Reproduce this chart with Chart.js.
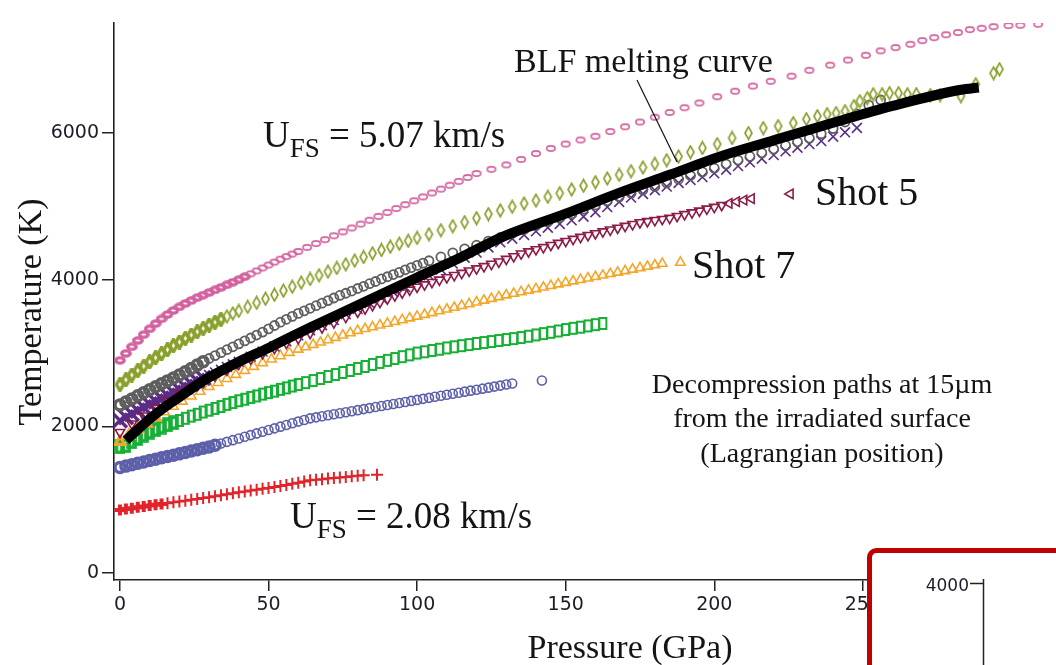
<!DOCTYPE html>
<html>
<head>
<meta charset="utf-8">
<script src="https://cdn.jsdelivr.net/npm/chart.js@4.4.1/dist/chart.umd.min.js"></script>
<style>
html,body{margin:0;padding:0;background:#fff;}
#wrap{width:1056px;height:665px;position:relative;}
</style>
</head>
<body>
<div id="wrap"><canvas id="c" width="1056" height="665"></canvas></div>
<script>
// ---- data (Pressure GPa, Temperature K) ----
const xTicks = [0, 50, 100, 150, 200, 250, 300];
const yTicks = [0, 2000, 4000, 6000];

const pinkP = [0,2,4,6,8,10,12,14,16,18,20,22,24,26,28,30,32,34,36,38,40,42,44,46,48,50,52,54,56,58,60,63,66,69,72,75,78,81,84,87,90,93,96,99,102,105,108,111,114,117,120,125,130,135,140,145,150,155,160,165,170,175,180,185,190,195,201,207,213,219,226,232,239,245,251,256,261,266,270,274,278,282,286,290,294,299,303,309];
const pinkT = [2900,2995,3085,3170,3250,3330,3400,3465,3525,3580,3630,3675,3715,3755,3790,3825,3860,3895,3930,3965,4000,4040,4080,4120,4160,4200,4240,4280,4315,4350,4385,4440,4493,4546,4599,4652,4705,4758,4811,4864,4917,4970,5023,5076,5129,5182,5235,5288,5341,5394,5447,5505,5565,5640,5720,5790,5850,5905,5955,6020,6085,6150,6215,6280,6345,6410,6495,6570,6640,6705,6775,6855,6925,6995,7060,7120,7165,7210,7260,7300,7340,7370,7410,7428,7450,7465,7470,7483];

const oliveP = [0,2,4,6,8,10,12,14,16,18,20,22,24,26,28,30,32,34,36,38,40,43,46,49,52,55,58,61,64,67,70,73,76,79,82,85,88,91,94,97,100,104,108,112,116,120,124,128,132,136,140,144,148,152,156,160,164,168,172,176,180,184,188,192,196,201,206,211.5,216.5,221.5,226.6,231,234.7,238,241,244,247,249,251.5,253.5,256.5,259,262,265,268,272.7,276,283,288,294,296];
const oliveT = [2570,2635,2700,2760,2820,2880,2935,2990,3045,3100,3150,3200,3245,3290,3335,3380,3420,3460,3500,3540,3575,3630,3685,3740,3795,3850,3905,3960,4010,4060,4110,4160,4210,4260,4310,4360,4405,4450,4490,4530,4570,4620,4675,4730,4785,4840,4895,4945,4995,5040,5080,5130,5180,5230,5280,5330,5380,5430,5480,5530,5580,5630,5680,5740,5796,5850,5932,6000,6068,6095,6136,6190,6231,6258,6272,6299,6367,6435,6476,6530,6530,6544,6544,6530,6530,6517,6517,6503,6666,6816,6871];

const grayP = [0,2,4,6,8,10,12,14,16,18,20,22,24,26,28,30,32,34,36,38,40,42,44,46,48,50,52,54,56,58,60,62,64,66,68,70,72,74,76,78,80,82,84,86,88,90,92,94,96,98,100,102,104,108,112,116,120,124,128,132,136,140,144,148,152,156,160,164,168,172,176,180,184,188,192,196,200,204,208,212,216,220,224,228,232,236,240,244,248,252,256];
const grayT = [2290,2332,2374,2416,2458,2500,2540,2580,2620,2660,2700,2745,2790,2835,2880,2925,2965,3005,3045,3085,3125,3165,3205,3245,3285,3330,3375,3420,3460,3500,3540,3575,3610,3645,3680,3715,3750,3785,3815,3845,3880,3910,3945,3975,4010,4040,4070,4100,4135,4165,4195,4225,4258,4310,4365,4420,4470,4525,4575,4630,4685,4740,4790,4845,4900,4960,5020,5075,5130,5180,5225,5270,5320,5370,5420,5470,5520,5575,5630,5680,5730,5780,5830,5880,5930,5990,6060,6150,6260,6380,6450];

const purpleP = [0,2,4,6,8,10,12,14,16,18,20,22,24,26,28,30,32,34,36,38,40,44,48,52,56,60,64,68,72,76,80,84,88,92,96,100,104,108,112,116,120,124,128,132,136,140,144,148,152,156,160,164,168,172,176,180,184,188,192,196,200,204,208,212,216,220,224,228,232,236,240,244,248];
const purpleT = [2080,2125,2170,2215,2260,2300,2340,2380,2420,2460,2500,2540,2580,2620,2660,2700,2735,2770,2810,2845,2880,2950,3020,3090,3160,3240,3310,3380,3450,3530,3600,3680,3750,3830,3900,3980,4060,4140,4220,4300,4370,4440,4510,4560,4610,4660,4710,4760,4810,4860,4920,4990,5060,5120,5170,5220,5270,5320,5360,5400,5450,5500,5550,5600,5650,5700,5750,5800,5850,5890,5950,6010,6070];

const shot5P = [0,4,8,12,16,20,24,28,32,36,40,44,48,52,56,60,64,68,72,76,80,82.5,85,87.5,90,92.5,95,97.5,100,102.5,105,107.5,110,112.5,115,117.5,120,122.5,125,127.5,130,132.5,135,137.5,140,142.5,145,147.5,150,152.5,155,157.5,160,162.5,165,167.5,170,172.5,175,177.5,180,182.5,185,187.5,190,192.5,195,197.5,200,202.5,205,207.5,210,212.5,225.6];
const shot5T = [1920,2035,2145,2250,2350,2450,2530,2610,2690,2770,2850,2920,2995,3065,3135,3200,3270,3345,3415,3490,3560,3605,3650,3695,3740,3783,3822,3861,3900,3933,3965,3998,4030,4060,4090,4121,4151,4181,4213,4244,4280,4317,4354,4383,4412,4441,4470,4498,4525,4553,4580,4605,4630,4655,4680,4705,4730,4755,4780,4795,4810,4825,4840,4865,4890,4915,4938,4965,4990,5015,5040,5065,5085,5105,5170];

const shot7P = [0,3,6,9,12,15,18,21,24,27,30,33,36,39,42,45,48,51,54,57,60,62.5,65,67.5,70,72.5,75,77.5,80,82.5,85,87.5,90,92.5,95,97.5,100,102.5,105,107.5,110,112.5,115,117.5,120,122.5,125,127.5,130,132.5,135,137.5,140,142.5,145,147.5,150,152.5,155,157.5,160,162.5,165,167.5,170,172.5,175,177.5,180,182.5,188.6];
const shot7T = [1790,1875,1960,2040,2120,2195,2270,2340,2410,2475,2540,2595,2650,2705,2760,2815,2865,2915,2960,3005,3050,3082,3114,3146,3178,3210,3242,3274,3306,3330,3354,3379,3403,3427,3451,3476,3500,3524,3548,3572,3597,3621,3645,3669,3693,3718,3742,3766,3790,3811,3833,3854,3875,3896,3918,3939,3960,3980,4000,4020,4040,4060,4080,4100,4120,4140,4160,4180,4200,4220,4235];

const greenP = [0,2,4,6,8,10,12,14,16,18,20,22,24,26,28,30,32,34,36,38,40,42,44,46,48,50,52,54,56,58,60,62.5,65,67.5,70,72.5,75,77.5,80,82.5,85,87.5,90,92.5,95,97.5,100,102.5,105,107.5,110,112.5,115,117.5,120,122.5,125,127.5,130,132.5,135,137.5,140,142.5,145,147.5,150,152.5,155,157.5,160,162.5];
const greenT = [1720,1735,1790,1835,1880,1920,1955,1990,2020,2050,2080,2110,2140,2165,2195,2220,2245,2270,2300,2325,2350,2370,2395,2415,2440,2460,2480,2505,2525,2550,2570,2597,2625,2652,2680,2707,2735,2762,2790,2817,2845,2872,2900,2925,2950,2975,3000,3017,3035,3052,3070,3085,3100,3115,3130,3143,3157,3170,3184,3197,3211,3229,3247,3265,3283,3301,3320,3337,3353,3370,3387,3403];

const blueP = [0,2,4,6,8,10,12,14,16,18,20,22,24,26,28,30,32,34,36,38,40,42,44,46,48,50,52,54,56,58,60,62,64,66,68,70,72,74,76,78,80,82,84,86,88,90,92,94,96,98,100,102,104,106,108,110,112,114,116,118,120,122,124,126,128,130,132,142];
const blueT = [1440,1458,1477,1496,1515,1535,1553,1571,1589,1607,1625,1644,1663,1682,1701,1720,1743,1766,1789,1812,1835,1858,1881,1904,1927,1950,1973,1996,2019,2042,2065,2087,2109,2123,2137,2151,2165,2179,2193,2207,2221,2235,2249,2263,2277,2291,2305,2319,2333,2347,2361,2375,2389,2403,2417,2431,2445,2459,2473,2487,2500,2514,2528,2542,2556,2570,2585,2626];

const redP = [0,2,4,6,8,10,12,14,16,18,20,22,24,26,28,30,32,34,36,38,40,42,44,46,48,50,52,54,56,58,60,62,64,66,68,70,72,74,76,78,80,82,86.5];
const redT = [860,872,884,896,908,920,931,942,953,964,975,987,999,1011,1023,1034,1047,1060,1073,1087,1100,1112,1124,1136,1148,1160,1174,1188,1202,1216,1230,1248,1265,1272,1280,1290,1296,1302,1310,1318,1326,1335,1340];

const blfP = [2,5,10,15,20,25,30,40,50,64,80,100,115,128,150,168,185,202,220,240,260,283,289];
const blfT = [1810,1920,2100,2260,2400,2540,2667,2880,3070,3347,3650,4030,4310,4571,4900,5184,5430,5680,5900,6140,6370,6590,6620];

// ---- helpers ----
const xy = (P, T) => P.map((p, i) => ({x: p, y: T[i]}));
function mk(w, h, fn) {
  const c = document.createElement('canvas');
  c.width = w; c.height = h;
  fn(c.getContext('2d'));
  return c;
}
const pinkMark = lw => mk(12, 9, g => {
  g.strokeStyle = '#D3619E'; g.lineWidth = lw;
  g.beginPath(); g.ellipse(6, 4.5, 4.2, 2.6, 0, 0, Math.PI * 2); g.stroke();
});
const oliveMark = lw => mk(11, 15, g => {
  g.strokeStyle = '#88A12D'; g.lineWidth = lw;
  g.beginPath(); g.moveTo(5.5, 1.3); g.lineTo(9, 7.5); g.lineTo(5.5, 13.7); g.lineTo(2, 7.5); g.closePath(); g.stroke();
});
const greenMark = lw => mk(11, 15, g => {
  g.strokeStyle = '#17AF36'; g.lineWidth = lw;
  g.strokeRect(2, 2, 7, 11);
});
const pinkStyle = pinkMark(1.6), pinkBold = pinkMark(3.4);
const oliveStyle = oliveMark(1.7), oliveBold = oliveMark(3.4);
const greenStyle = greenMark(2), greenBold = greenMark(3.6);

const ser = 'Liberation Serif';
const annot = {
  id: 'annot',
  afterDraw(chart) {
    const ctx = chart.ctx;
    ctx.save();
    ctx.fillStyle = '#141414';
    ctx.textBaseline = 'alphabetic';
    const t = (s, x, y, size, align) => {
      ctx.font = size + 'px "' + ser + '"';
      ctx.textAlign = align || 'left';
      ctx.fillText(s, x, y);
      return ctx.measureText(s).width;
    };
    t('BLF melting curve', 514, 72, 34);
    ctx.strokeStyle = '#111'; ctx.lineWidth = 1.2;
    ctx.beginPath(); ctx.moveTo(637, 80); ctx.lineTo(677, 162); ctx.stroke();
    const ufs = (x, y, rest) => {
      let w = t('U', x, y, 37);
      w += t('FS', x + w, y + 10, 27);
      t(rest, x + w, y, 37);
    };
    ufs(263, 147, ' = 5.07 km/s');
    ufs(290, 528, ' = 2.08 km/s');
    t('Shot 5', 815, 205, 40);
    t('Shot 7', 692, 278, 40);
    t('Decompression paths at 15µm', 822, 393, 28, 'center');
    t('from the irradiated surface', 822, 427, 28, 'center');
    t('(Lagrangian position)', 822, 462, 28, 'center');
    t('Pressure (GPa)', 630, 658, 34, 'center');
    ctx.save();
    ctx.translate(41, 312); ctx.rotate(-Math.PI / 2);
    t('Temperature (K)', 0, 0, 34, 'center');
    ctx.restore();
    // red framed inset corner
    ctx.beginPath();
    ctx.roundRect(869.5, 550.5, 260, 200, 7);
    ctx.fillStyle = '#fff'; ctx.fill();
    ctx.strokeStyle = '#C00000'; ctx.lineWidth = 5; ctx.stroke();
    ctx.fillStyle = '#1c1c28';
    ctx.font = '17px "DejaVu Sans"'; ctx.textAlign = 'right';
    ctx.fillText('4000', 969, 591);
    ctx.strokeStyle = '#222'; ctx.lineWidth = 1.5;
    ctx.beginPath(); ctx.moveTo(970, 583.5); ctx.lineTo(983.5, 583.5);
    ctx.moveTo(983.5, 579); ctx.lineTo(983.5, 665); ctx.stroke();
    ctx.restore();
  }
};

const px = c => (c.raw ? c.raw.x : 0);
const sc = (label, P, T, color, style, radius, extra) => Object.assign({
  label, data: xy(P, T), showLine: false,
  borderColor: color, backgroundColor: 'rgba(0,0,0,0)',
  pointStyle: style, pointRadius: radius, pointBorderWidth: 1.6
}, extra || {});

new Chart(document.getElementById('c'), {
  type: 'scatter',
  data: {
    datasets: [
      { label: 'BLF melting curve', data: xy(blfP, blfT), showLine: true, order: -1,
        borderColor: '#000', borderWidth: 10, pointRadius: 0, cubicInterpolationMode: 'monotone', fill: false },
      sc('UFS 5.07 km/s', pinkP, pinkT, '#D3619E', c => (px(c) < 44 ? pinkBold : pinkStyle), 4),
      sc('olive', oliveP, oliveT, '#88A12D', c => (px(c) < 36 ? oliveBold : oliveStyle), 5),
      sc('Shot 5', shot5P, shot5T, '#8C1A46', 'triangle', 5.5,
         { pointRotation: c => (px(c) >= 205 ? 270 : 180) }),
      sc('gray', grayP, grayT, '#5E5E5E', 'circle', 4.5,
         { pointBorderWidth: c => (px(c) < 30 ? 3.5 : 1.8), pointRadius: c => (px(c) < 30 ? 5 : 4.5) }),
      sc('purple', purpleP, purpleT, '#5B2C86', 'crossRot', 7,
         { pointRadius: c => (px(c) < 30 ? 10 : 7), pointBorderWidth: c => (px(c) < 30 ? 3.5 : 1.6) }),
      sc('Shot 7', shot7P, shot7T, '#F4A62A', 'triangle', 5.5,
         { pointBorderWidth: c => (px(c) < 15 ? 3 : 1.6) }),
      sc('green', greenP, greenT, '#17AF36', c => (px(c) < 20 ? greenBold : greenStyle), 5),
      sc('blue', blueP, blueT, '#5C5FA9', 'circle', 4.5,
         { pointBorderWidth: c => (px(c) < 34 ? 3.5 : 1.6), pointRadius: c => (px(c) < 34 ? 5 : 4.5) }),
      sc('UFS 2.08 km/s', redP, redT, '#E1232A', 'cross', 6,
         { pointBorderWidth: c => (px(c) < 16 ? 4 : 2), pointRadius: c => (px(c) < 16 ? 5.5 : 6) })
    ]
  },
  options: {
    responsive: false,
    devicePixelRatio: 1,
    animation: false,
    events: [],
    layout: { autoPadding: false, padding: { top: 23, right: 0, left: 0, bottom: 0 } },
    plugins: { legend: { display: false }, tooltip: { enabled: false } },
    scales: {
      x: {
        type: 'linear', min: -2, max: 315,
        afterBuildTicks: s => { s.ticks = xTicks.map(v => ({ value: v })); },
        afterFit: s => { s.height = 85; s.paddingLeft = 0; s.paddingRight = 0; },
        grid: { drawOnChartArea: false, drawTicks: true, tickLength: 11, color: '#222', lineWidth: 1.5 },
        border: { display: true, color: '#222', width: 1.6 },
        ticks: { padding: 3, color: '#1c1c28', font: { family: 'DejaVu Sans', size: 19 }, maxRotation: 0, autoSkip: false,
                 callback: v => String(v) }
      },
      y: {
        type: 'linear', min: -95, max: 7500,
        afterBuildTicks: s => { s.ticks = yTicks.map(v => ({ value: v })); },
        afterFit: s => { s.width = 114; s.paddingTop = 0; s.paddingBottom = 0; },
        grid: { drawOnChartArea: false, drawTicks: true, tickLength: 12, color: '#222', lineWidth: 1.5 },
        border: { display: true, color: '#222', width: 1.6 },
        ticks: { padding: 3, color: '#1c1c28', font: { family: 'DejaVu Sans', size: 19 }, autoSkip: false,
                 callback: v => String(v) }
      }
    }
  },
  plugins: [annot]
});
</script>
</body>
</html>
